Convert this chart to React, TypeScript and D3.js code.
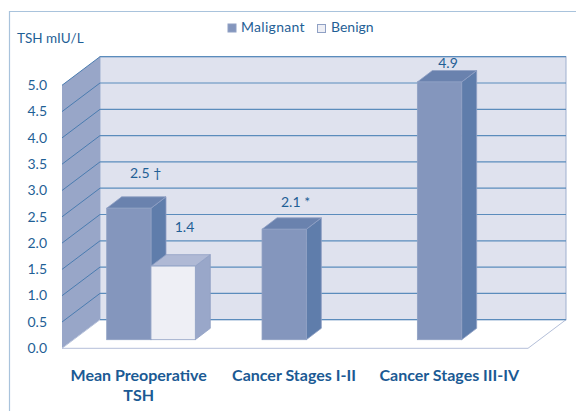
import React from "react";
import * as d3 from "d3";

const categories = ["Mean Preoperative", "Cancer Stages I-II", "Cancer Stages III-IV"];
const categorySecondLine = ["TSH", "", ""];
const malignant = [2.5, 2.1, 4.9];
const benign = [1.4, null, null];
const malignantLabels = ["2.5 †", "2.1 *", "4.9"];
const benignLabels = ["1.4", "", ""];
const ticks = [0, 0.5, 1, 1.5, 2, 2.5, 3, 3.5, 4, 4.5, 5];
const legend = ["Malignant", "Benign"];

const FONT = "Lato, 'Open Sans', sans-serif";
const TEXT = "#1f5f96";

// Front plane of the 3-D box, and depth offset to the back wall
const frontLeft = 62, frontRight = 528, frontBottom = 348.3;
const depthX = 38, depthY = 28.6, unit = 52.6;
const y = d3.scaleLinear().domain([0, 5]).range([frontBottom, frontBottom - 5 * unit]);
const x = d3.scaleBand().domain(categories).range([frontLeft, frontRight]);
const barW = 44.3, barInset = 44.7, barDX = 15, barDY = 11.4, barBase = 8.6;

const poly = (pts: [number, number][]) => {
  const p = d3.path();
  pts.forEach(([a, b], i) => (i ? p.lineTo(a, b) : p.moveTo(a, b)));
  p.closePath();
  return p.toString();
};

function Bar({ left, value, front, top, side, stroke }: { left: number; value: number; front: string; top: string; side: string; stroke: string }) {
  const yt = y(value) - barBase;
  const yb = y(0) - barBase;
  const r = left + barW;
  return (
    <g stroke={stroke} strokeWidth={0.8}>
      <path d={poly([[r, yt], [r + barDX, yt - barDY], [r + barDX, yb - barDY], [r, yb]])} fill={side} />
      <path d={poly([[left, yt], [left + barDX, yt - barDY], [r + barDX, yt - barDY], [r, yt]])} fill={top} />
      <rect x={left} y={yt} width={barW} height={yb - yt} fill={front} />
    </g>
  );
}

export default function App() {
  return (
    <svg width={576} height={411} style={{ position: "absolute", left: 0, top: 0 }} fontFamily={FONT}>
      <rect width={576} height={411} fill="#fff" />
      <path d="M9.5,411V11.5H576" fill="none" stroke="#a9c3dc" strokeWidth={1.2} />

      {/* back wall */}
      <rect x={frontLeft + depthX} y={y(5) - depthY} width={frontRight - frontLeft} height={y(0) - y(5)} fill="#dfe2ee" stroke="#9fb0cf" strokeWidth={1} />
      {/* side wall */}
      <path d={poly([[frontLeft, y(0)], [frontLeft, y(5)], [frontLeft + depthX, y(5) - depthY], [frontLeft + depthX, y(0) - depthY]])} fill="#98a6c8" />
      {/* floor */}
      <path d={poly([[frontLeft, y(0)], [frontLeft + depthX, y(0) - depthY], [frontRight + depthX, y(0) - depthY], [frontRight, y(0)]])} fill="#fff" stroke="#b4bfd9" strokeWidth={1} />

      {ticks.map((t) => (
        <g key={t}>
          {t > 0 && (
            <path
              d={`M${frontLeft},${y(t)}L${frontLeft + depthX},${y(t) - depthY}`}
              stroke="#4a7cb0"
              strokeWidth={1}
              fill="none"
            />
          )}
          <line x1={frontLeft + depthX} x2={frontRight + depthX} y1={y(t) - depthY} y2={y(t) - depthY} stroke="#5b8cbc" strokeWidth={1.2} />
          <text x={47} y={y(t) + 4.7} textAnchor="end" fontSize={14} fill={TEXT}>
            {t.toFixed(1)}
          </text>
        </g>
      ))}

      {categories.map((c, i) => {
        const left = x(c)! + barInset;
        const b = benign[i];
        return (
          <g key={c}>
            <Bar left={left} value={malignant[i]} front="#8496bd" top="#6a82ae" side="#5f7dab" stroke="#8fa0c4" />
            {b != null && (
              <Bar left={left + barW} value={b} front="#eeeff5" top="#afb9d5" side="#99a7c9" stroke="#8fa0c4" />
            )}
          </g>
        );
      })}

      <g fontSize={14} fill={TEXT}>
        <text x={130} y={178}>{malignantLabels[0]}</text>
        <text x={184.5} y={232} textAnchor="middle">{benignLabels[0]}</text>
        <text x={281} y={207}>{malignantLabels[1]}</text>
        <text x={448} y={68} textAnchor="middle">{malignantLabels[2]}</text>
      </g>

      {categories.map((c, i) => (
        <g key={c} fontSize={16} fontWeight={700} fill="#1b5a94" textAnchor="middle">
          <text x={x(c)! + x.bandwidth() / 2 - 1} y={381}>{c}</text>
          {categorySecondLine[i] && <text x={x(c)! + x.bandwidth() / 2 - 1} y={401}>{categorySecondLine[i]}</text>}
        </g>
      ))}

      <text x={17} y={43} fontSize={13.5} fill={TEXT}>TSH mIU/L</text>

      <rect x={228} y={24} width={8} height={8} fill="#8496bd" stroke="#8fa0c4" />
      <text x={241} y={32} fontSize={14} fill={TEXT} letterSpacing={0.3}>{legend[0]}</text>
      <rect x={317.5} y={24.5} width={8} height={8} fill="#eeeff5" stroke="#8fa0c4" />
      <text x={331} y={32} fontSize={14} fill={TEXT}>{legend[1]}</text>
    </svg>
  );
}
